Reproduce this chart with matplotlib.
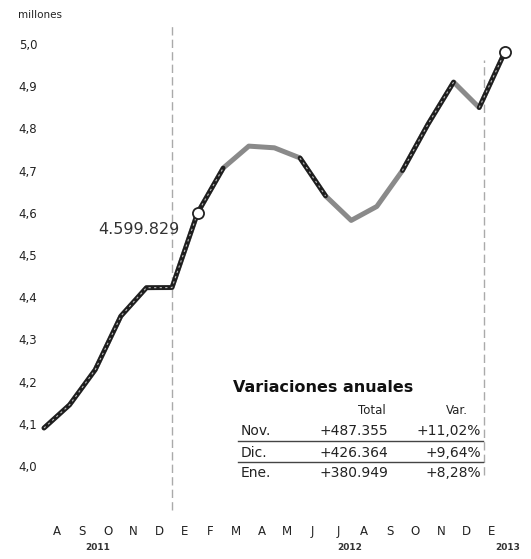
import numpy as np
import matplotlib.pyplot as plt

# monthly values, Jul 2011 .. Jan 2013 (millions)
months = ["J", "A", "S", "O", "N", "D", "E", "F", "M", "A", "M", "J",
          "J", "A", "S", "O", "N", "D", "E"]
values = [4.09, 4.145, 4.228, 4.355, 4.4225, 4.4229, 4.599829, 4.706, 4.758,
          4.754, 4.73, 4.64, 4.582, 4.615, 4.70, 4.81, 4.9098, 4.8493, 4.980778]
yticks = [4.0, 4.1, 4.2, 4.3, 4.4, 4.5, 4.6, 4.7, 4.8, 4.9, 5.0]
ytick_labels = ["4,0", "4,1", "4,2", "4,3", "4,4", "4,5", "4,6", "4,7", "4,8", "4,9", "5,0"]
years = ["2011", "2012", "2013"]
year_pos = [2.1, 11.95, 18.1]
separators = [5, 17.2]
highlight = [6, 18]
# segments printed darker in the original
dark_segments = [(0, 7), (10, 11), (14, 16), (17, 18)]

table_rows = ["Nov.", "Dic.", "Ene."]
table_total = ["+487.355", "+426.364", "+380.949"]
table_var = ["+11,02%", "+9,64%", "+8,28%"]

W, H = 531, 559
fig = plt.figure(figsize=(W / 100, H / 100), dpi=100)


def px(x, y):
    return x / W, 1 - y / H


l, t, r, b = 40, 30, 520, 500
ax = fig.add_axes([l / W, 1 - b / H, (r - l) / W, (b - t) / H])
x = np.arange(len(values))
ax.set_xlim(-0.156, 18.594)
ax.set_ylim(3.9194, 5.0332)
for s in ax.spines.values():
    s.set_visible(False)

ax.vlines(separators[0], 3.896, 5.045, color="#aaaaaa", lw=1.0,
          ls=(0, (6, 3)), zorder=1, clip_on=False)
ax.vlines(separators[1], 3.979, 4.962, color="#aaaaaa", lw=1.0,
          ls=(0, (6, 3)), zorder=1, clip_on=False)

ax.plot(x, values, color="#8a8a8a", lw=3.6, solid_capstyle="round", zorder=3)
for a, bb in dark_segments:
    ax.plot(x[a:bb + 1], values[a:bb + 1], color="#1e1e1e", lw=3.4,
            solid_capstyle="round", zorder=4)
    ax.plot(x[a:bb + 1], values[a:bb + 1], color="#bbbbbb", lw=0.8,
            ls=(0, (2, 3)), zorder=5)
ax.plot([x[i] for i in highlight], [values[i] for i in highlight], "o",
        ms=8, mfc="white", mec="#222222", mew=1.3, zorder=6)

ax.text(x[6] - 0.7, values[6] - 0.04, "4.599.829", ha="right", va="center",
        fontsize=11.5, color="#333333")

ax.set_yticks(yticks)
ax.set_yticklabels(ytick_labels, fontsize=8.5, color="#222222")
ax.tick_params(axis="y", length=0, pad=2)
ax.set_xticks(x[1:] - 0.5)
ax.set_xticklabels(months[1:], fontsize=8.5, color="#222222")
ax.tick_params(axis="x", length=0, pad=18)
for yr, pos in zip(years, year_pos):
    ax.text(pos, -0.1, yr, transform=ax.get_xaxis_transform(), ha="center",
            va="center", fontsize=6.5, fontweight="bold", color="#333333")

fig.text(*px(18, 15), "millones", fontsize=7.5, ha="left", va="center", color="#222222")

# table
fig.text(*px(233, 388), "Variaciones anuales", fontsize=11.5, fontweight="bold",
         ha="left", va="center", color="#111111")
fig.text(*px(372, 411), "Total", fontsize=8.5, ha="center", va="center", color="#222222")
fig.text(*px(468, 411), "Var.", fontsize=8.5, ha="right", va="center", color="#222222")
row_y = [431, 453, 473]
for name, tot, var, yy in zip(table_rows, table_total, table_var, row_y):
    fig.text(*px(241, yy), name, fontsize=10, ha="left", va="center", color="#222222")
    fig.text(*px(388, yy), tot, fontsize=10, ha="right", va="center", color="#222222")
    fig.text(*px(481, yy), var, fontsize=10, ha="right", va="center", color="#222222")
for yy in [441, 462]:
    fig.add_artist(plt.Line2D([238 / W, 483 / W], [1 - yy / H, 1 - yy / H],
                              color="#444444", lw=1.0))

fig.savefig("out.png", dpi=100)
